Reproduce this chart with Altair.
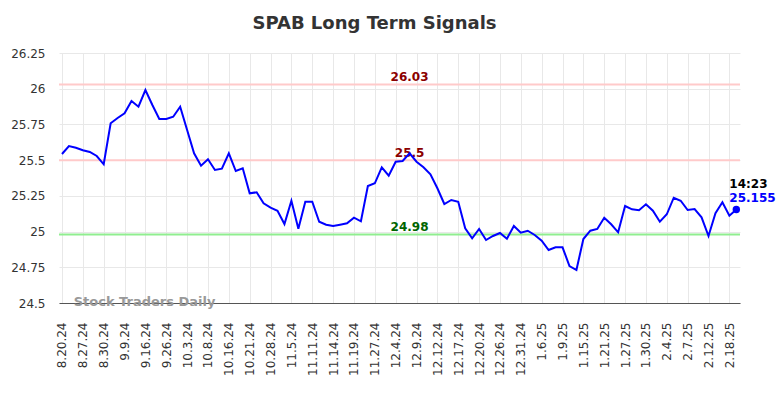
import altair as alt
import pandas as pd

values = [25.543, 25.599, 25.587, 25.569, 25.557, 25.529, 25.471, 25.758, 25.795, 25.828,
          25.914, 25.874, 25.991, 25.886, 25.788, 25.788, 25.804, 25.874, 25.711, 25.548,
          25.461, 25.506, 25.431, 25.440, 25.548, 25.424, 25.443, 25.268, 25.275, 25.198,
          25.167, 25.146, 25.053, 25.216, 25.020, 25.209, 25.209, 25.069, 25.048, 25.039,
          25.048, 25.058, 25.097, 25.072, 25.319, 25.338, 25.450, 25.391, 25.489, 25.494,
          25.548, 25.489, 25.450, 25.401, 25.303, 25.193, 25.221, 25.209, 25.023, 24.953,
          25.018, 24.941, 24.969, 24.990, 24.950, 25.039, 24.992, 25.006, 24.976, 24.936,
          24.871, 24.890, 24.890, 24.759, 24.731, 24.948, 25.006, 25.018, 25.097, 25.051,
          24.995, 25.179, 25.156, 25.149, 25.191, 25.146, 25.069, 25.121, 25.237, 25.216,
          25.151, 25.158, 25.100, 24.969, 25.128, 25.205, 25.111, 25.155]

tick_labels = ["8.20.24", "8.27.24", "8.30.24", "9.9.24", "9.16.24", "9.26.24", "10.3.24",
               "10.8.24", "10.16.24", "10.21.24", "10.28.24", "11.5.24", "11.11.24",
               "11.14.24", "11.19.24", "11.27.24", "12.4.24", "12.9.24", "12.12.24",
               "12.17.24", "12.20.24", "12.26.24", "12.31.24", "1.6.25", "1.9.25",
               "1.15.25", "1.21.25", "1.27.25", "1.30.25", "2.4.25", "2.7.25",
               "2.12.25", "2.18.25"]

y_ticks = [24.5, 24.75, 25.0, 25.25, 25.5, 25.75, 26.0, 26.25]

signal_values = [26.03, 25.5, 24.98]
signal_labels = ["26.03", "25.5", "24.98"]
signal_line_colors = ["#ffcaca", "#ffcaca", "#90ee90"]
signal_text_colors = ["#8b0000", "#8b0000", "#006400"]

last_time = "14:23"
last_value = 25.155

FONT = "DejaVu Sans"

df = pd.DataFrame({"idx": list(range(len(values))), "value": values})
sig = pd.DataFrame({"value": signal_values, "label": signal_labels,
                    "lc": signal_line_colors, "tc": signal_text_colors,
                    "idx": [50] * 3})
last = pd.DataFrame({"idx": [len(values) - 1], "value": [last_value],
                     "t": [last_time], "v": [f"{last_value:g}"]})

tick_vals = [i * 3 for i in range(len(tick_labels))]
label_expr = "[" + ",".join(f"'{t}'" for t in tick_labels) + "][round(datum.value/3)]"

x_scale = alt.Scale(domain=[-0.43, 97.53], nice=False, zero=False)
y_scale = alt.Scale(domain=[24.5, 26.25], nice=False, zero=False)

x_axis = alt.Axis(values=tick_vals, labelExpr=label_expr, labelAngle=-90,
                  labelFont=FONT, labelFontSize=12, labelColor="#333333",
                  labelPadding=19, ticks=False, grid=True, gridColor="#e8e8e8",
                  labelOverlap=False, domain=True, domainColor="#555555", title=None)
y_axis = alt.Axis(values=y_ticks, format=".4~g", labelFont=FONT, labelFontSize=12,
                  labelColor="#333333", labelPadding=14, ticks=False, grid=True,
                  labelOverlap=False, gridColor="#e8e8e8", domain=False, title=None)

X = alt.X("idx:Q", scale=x_scale, axis=x_axis)
Y = alt.Y("value:Q", scale=y_scale, axis=y_axis)

rules = alt.Chart(sig).mark_rule(strokeWidth=2).encode(
    y=Y,
    color=alt.Color("lc:N", scale=None),
)

sig_text = alt.Chart(sig).mark_text(font=FONT, fontSize=12, fontWeight="bold",
                                     align="center", baseline="alphabetic", dy=-3).encode(
    x=X, y=Y,
    text="label:N",
    color=alt.Color("tc:N", scale=None),
)

watermark = alt.Chart(last).mark_text(font=FONT, fontSize=13, fontWeight="bold",
                                       color="#999999", align="left",
                                       baseline="alphabetic").encode(
    x=alt.value(14.7), y=alt.value(253), text=alt.value("Stock Traders Daily"))

line = alt.Chart(df).mark_line(color="#0000ff", strokeWidth=2).encode(x=X, y=Y)

pt = alt.Chart(last).mark_point(filled=True, size=55, color="#0000ff", opacity=1).encode(
    x=X, y=Y)

t1 = alt.Chart(last).mark_text(font=FONT, fontSize=12, fontWeight="bold", color="#000000",
                               align="left", baseline="alphabetic", dx=-7, dy=-21).encode(
    x=X, y=Y, text="t:N")
t2 = alt.Chart(last).mark_text(font=FONT, fontSize=12, fontWeight="bold", color="#0000ff",
                               align="left", baseline="alphabetic", dx=-7, dy=-7).encode(
    x=X, y=Y, text="v:N")

chart = alt.layer(rules, sig_text, watermark, line, pt, t1, t2).properties(
    width=681, height=250,
    title=alt.TitleParams("SPAB Long Term Signals", font=FONT, fontSize=18,
                          fontWeight="bold", color="#333333", anchor="middle",
                          dx=-25, offset=14),
    autosize=alt.AutoSizeParams(type="none"),
    padding={"left": 51, "top": 45, "right": 36, "bottom": 87},
).configure_view(stroke=None)

chart.save("out.html", embed_options={"renderer": "svg", "actions": False})
